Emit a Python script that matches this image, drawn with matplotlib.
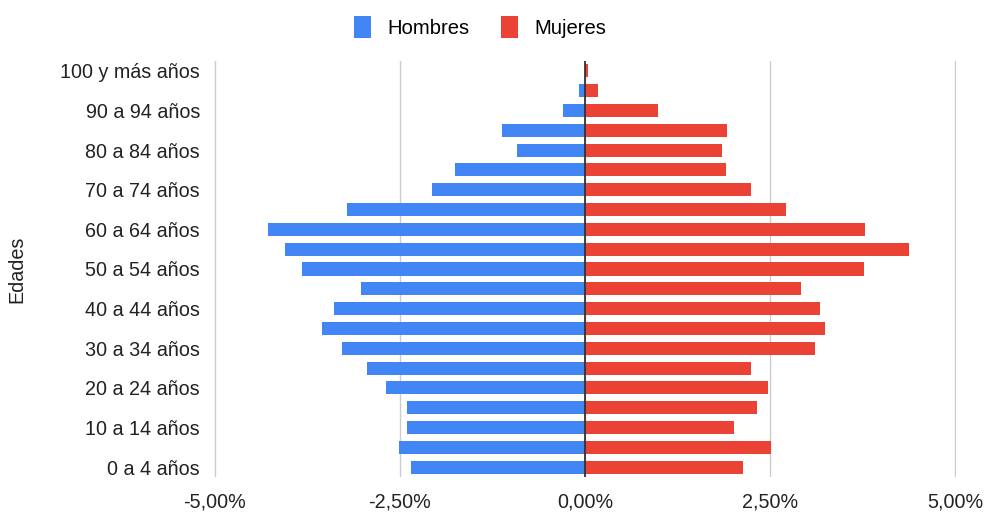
import matplotlib.pyplot as plt
from matplotlib.ticker import FuncFormatter

plt.rcParams['font.family'] = ['Liberation Sans', 'DejaVu Sans']

# grupos de edad, de abajo hacia arriba
edades = ["0 a 4 años", "5 a 9 años", "10 a 14 años", "15 a 19 años", "20 a 24 años",
          "25 a 29 años", "30 a 34 años", "35 a 39 años", "40 a 44 años", "45 a 49 años",
          "50 a 54 años", "55 a 59 años", "60 a 64 años", "65 a 69 años", "70 a 74 años",
          "75 a 79 años", "80 a 84 años", "85 a 89 años", "90 a 94 años", "95 a 99 años",
          "100 y más años"]

# porcentajes (hombres en negativo)
hombres = [-2.35, -2.51, -2.40, -2.40, -2.69, -2.94, -3.28, -3.55, -3.39, -3.03,
           -3.83, -4.06, -4.28, -3.21, -2.07, -1.76, -0.92, -1.12, -0.30, -0.077, -0.0]
mujeres = [2.13, 2.51, 2.01, 2.33, 2.47, 2.24, 3.11, 3.24, 3.18, 2.92,
           3.77, 4.38, 3.78, 2.72, 2.24, 1.90, 1.85, 1.92, 0.99, 0.17, 0.036]

azul = "#4285F4"
rojo = "#EA4335"
fs = 14.2

fig = plt.figure(figsize=(9.84, 5.14), dpi=100)
ax = fig.add_axes([214 / 984, 1 - 477 / 514, (956 - 214) / 984, (477 - 61) / 514])

y = list(range(len(edades)))
ax.barh(y, hombres, height=0.66, color=azul, label="Hombres", zorder=2)
ax.barh(y, mujeres, height=0.66, color=rojo, label="Mujeres", zorder=2)

ax.set_xlim(-5.013, 5.013)
ax.set_ylim(-0.5, len(edades) - 0.5)
ax.set_xticks([-5, -2.5, 0, 2.5, 5])
ax.xaxis.set_major_formatter(FuncFormatter(lambda v, p: ("%.2f%%" % v).replace(".", ",")))
ax.set_yticks(y[::2])
ax.set_yticklabels(edades[::2])

ax.grid(axis="x", color="#cccccc", linewidth=1, zorder=0)
ax.axvline(0, color="#333333", linewidth=1.3, zorder=3)
for s in ax.spines.values():
    s.set_visible(False)
ax.tick_params(length=0, labelsize=fs, colors="#222222")
ax.tick_params(axis="x", pad=11)
ax.tick_params(axis="y", pad=10)
ax.set_ylabel("Edades", fontsize=fs, color="#222222")
ax.yaxis.set_label_coords(-0.253, 0.5)

fig.legend(loc="upper center", bbox_to_anchor=(0.488, 1.004), ncol=2, frameon=False,
           fontsize=14.6, handlelength=0.85, handleheight=1.3, columnspacing=1.55,
           handletextpad=0.8)

fig.savefig("out.png", dpi=100)
